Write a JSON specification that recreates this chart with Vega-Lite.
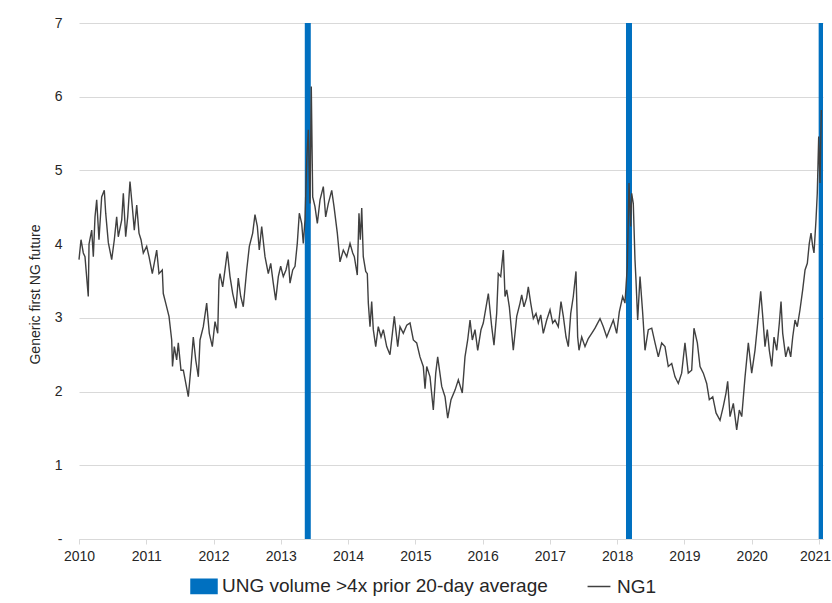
{
  "$schema": "https://vega.github.io/schema/vega-lite/v6.json",
  "width": 744,
  "height": 516,
  "autosize": {"type": "none"},
  "padding": {"left": 79, "top": 23, "right": 9, "bottom": 64},
  "config": {"view": {"stroke": null}, "font": "Liberation Sans"},
  "datasets": {
    "ung": [{"t": 2013.401}, {"t": 2018.176}, {"t": 2021.04}],
    "ng1": [
      {"t": 2010.000, "v": 3.79}, {"t": 2010.030, "v": 4.06}, {"t": 2010.064, "v": 3.88}, {"t": 2010.089, "v": 3.83},
      {"t": 2010.138, "v": 3.29}, {"t": 2010.149, "v": 4.00}, {"t": 2010.189, "v": 4.19}, {"t": 2010.213, "v": 3.83},
      {"t": 2010.238, "v": 4.37}, {"t": 2010.263, "v": 4.60}, {"t": 2010.297, "v": 4.06}, {"t": 2010.337, "v": 4.64},
      {"t": 2010.376, "v": 4.73}, {"t": 2010.397, "v": 4.42}, {"t": 2010.436, "v": 4.02}, {"t": 2010.486, "v": 3.79},
      {"t": 2010.525, "v": 4.06}, {"t": 2010.560, "v": 4.37}, {"t": 2010.584, "v": 4.10}, {"t": 2010.635, "v": 4.33},
      {"t": 2010.659, "v": 4.69}, {"t": 2010.694, "v": 4.10}, {"t": 2010.724, "v": 4.37}, {"t": 2010.758, "v": 4.85},
      {"t": 2010.792, "v": 4.51}, {"t": 2010.822, "v": 4.19}, {"t": 2010.858, "v": 4.53}, {"t": 2010.892, "v": 4.15},
      {"t": 2010.922, "v": 4.06}, {"t": 2010.956, "v": 3.88}, {"t": 2011.006, "v": 3.97}, {"t": 2011.041, "v": 3.83},
      {"t": 2011.090, "v": 3.60}, {"t": 2011.155, "v": 3.92}, {"t": 2011.189, "v": 3.60}, {"t": 2011.238, "v": 3.65},
      {"t": 2011.253, "v": 3.33}, {"t": 2011.289, "v": 3.20}, {"t": 2011.338, "v": 3.02}, {"t": 2011.378, "v": 2.70},
      {"t": 2011.390, "v": 2.34}, {"t": 2011.417, "v": 2.61}, {"t": 2011.452, "v": 2.43}, {"t": 2011.476, "v": 2.66},
      {"t": 2011.516, "v": 2.29}, {"t": 2011.551, "v": 2.29}, {"t": 2011.625, "v": 1.93}, {"t": 2011.665, "v": 2.34},
      {"t": 2011.699, "v": 2.74}, {"t": 2011.735, "v": 2.43}, {"t": 2011.774, "v": 2.20}, {"t": 2011.799, "v": 2.70},
      {"t": 2011.848, "v": 2.88}, {"t": 2011.898, "v": 3.20}, {"t": 2011.937, "v": 2.79}, {"t": 2011.982, "v": 2.61},
      {"t": 2012.022, "v": 2.95}, {"t": 2012.062, "v": 2.79}, {"t": 2012.081, "v": 3.51}, {"t": 2012.096, "v": 3.60},
      {"t": 2012.136, "v": 3.42}, {"t": 2012.170, "v": 3.65}, {"t": 2012.205, "v": 3.90}, {"t": 2012.245, "v": 3.56},
      {"t": 2012.285, "v": 3.33}, {"t": 2012.334, "v": 3.13}, {"t": 2012.368, "v": 3.54}, {"t": 2012.404, "v": 3.29},
      {"t": 2012.442, "v": 3.15}, {"t": 2012.493, "v": 3.65}, {"t": 2012.532, "v": 3.97}, {"t": 2012.582, "v": 4.15},
      {"t": 2012.616, "v": 4.40}, {"t": 2012.651, "v": 4.24}, {"t": 2012.680, "v": 3.92}, {"t": 2012.716, "v": 4.24},
      {"t": 2012.765, "v": 3.83}, {"t": 2012.814, "v": 3.60}, {"t": 2012.850, "v": 3.74}, {"t": 2012.888, "v": 3.47},
      {"t": 2012.924, "v": 3.24}, {"t": 2012.963, "v": 3.56}, {"t": 2012.998, "v": 3.70}, {"t": 2013.037, "v": 3.56},
      {"t": 2013.077, "v": 3.65}, {"t": 2013.112, "v": 3.79}, {"t": 2013.137, "v": 3.47}, {"t": 2013.177, "v": 3.65},
      {"t": 2013.211, "v": 3.70}, {"t": 2013.245, "v": 4.01}, {"t": 2013.275, "v": 4.42}, {"t": 2013.311, "v": 4.28},
      {"t": 2013.334, "v": 4.01}, {"t": 2013.360, "v": 4.33}, {"t": 2013.385, "v": 5.14}, {"t": 2013.409, "v": 5.55},
      {"t": 2013.434, "v": 4.55}, {"t": 2013.453, "v": 6.14}, {"t": 2013.474, "v": 4.64}, {"t": 2013.508, "v": 4.51},
      {"t": 2013.543, "v": 4.28}, {"t": 2013.583, "v": 4.60}, {"t": 2013.632, "v": 4.78}, {"t": 2013.667, "v": 4.37},
      {"t": 2013.706, "v": 4.55}, {"t": 2013.757, "v": 4.73}, {"t": 2013.791, "v": 4.51}, {"t": 2013.840, "v": 4.15},
      {"t": 2013.880, "v": 3.76}, {"t": 2013.929, "v": 3.92}, {"t": 2013.980, "v": 3.83}, {"t": 2014.029, "v": 4.01},
      {"t": 2014.069, "v": 3.88}, {"t": 2014.093, "v": 3.83}, {"t": 2014.137, "v": 3.58}, {"t": 2014.162, "v": 4.42},
      {"t": 2014.182, "v": 4.06}, {"t": 2014.203, "v": 4.49}, {"t": 2014.226, "v": 3.83}, {"t": 2014.262, "v": 3.63},
      {"t": 2014.286, "v": 3.60}, {"t": 2014.301, "v": 3.20}, {"t": 2014.326, "v": 2.88}, {"t": 2014.351, "v": 3.22},
      {"t": 2014.375, "v": 2.84}, {"t": 2014.411, "v": 2.61}, {"t": 2014.449, "v": 2.88}, {"t": 2014.490, "v": 2.74},
      {"t": 2014.524, "v": 2.84}, {"t": 2014.574, "v": 2.61}, {"t": 2014.623, "v": 2.50}, {"t": 2014.687, "v": 3.02},
      {"t": 2014.738, "v": 2.61}, {"t": 2014.772, "v": 2.88}, {"t": 2014.821, "v": 2.79}, {"t": 2014.872, "v": 2.90},
      {"t": 2014.921, "v": 2.93}, {"t": 2014.970, "v": 2.70}, {"t": 2015.020, "v": 2.66}, {"t": 2015.069, "v": 2.47},
      {"t": 2015.118, "v": 2.34}, {"t": 2015.144, "v": 2.04}, {"t": 2015.169, "v": 2.34}, {"t": 2015.218, "v": 2.20},
      {"t": 2015.267, "v": 1.75}, {"t": 2015.303, "v": 2.25}, {"t": 2015.332, "v": 2.47}, {"t": 2015.392, "v": 2.07},
      {"t": 2015.441, "v": 1.93}, {"t": 2015.481, "v": 1.64}, {"t": 2015.530, "v": 1.89}, {"t": 2015.590, "v": 2.02},
      {"t": 2015.639, "v": 2.16}, {"t": 2015.698, "v": 1.98}, {"t": 2015.738, "v": 2.47}, {"t": 2015.778, "v": 2.70},
      {"t": 2015.813, "v": 2.97}, {"t": 2015.847, "v": 2.70}, {"t": 2015.887, "v": 2.84}, {"t": 2015.927, "v": 2.56},
      {"t": 2015.976, "v": 2.84}, {"t": 2016.010, "v": 2.93}, {"t": 2016.085, "v": 3.33}, {"t": 2016.135, "v": 2.88},
      {"t": 2016.169, "v": 2.63}, {"t": 2016.209, "v": 3.06}, {"t": 2016.233, "v": 3.60}, {"t": 2016.269, "v": 3.56},
      {"t": 2016.308, "v": 3.92}, {"t": 2016.333, "v": 3.29}, {"t": 2016.358, "v": 3.38}, {"t": 2016.397, "v": 3.15},
      {"t": 2016.456, "v": 2.56}, {"t": 2016.507, "v": 3.02}, {"t": 2016.556, "v": 3.20}, {"t": 2016.581, "v": 3.31},
      {"t": 2016.615, "v": 3.15}, {"t": 2016.655, "v": 3.27}, {"t": 2016.679, "v": 3.42}, {"t": 2016.715, "v": 3.20},
      {"t": 2016.754, "v": 2.99}, {"t": 2016.794, "v": 3.06}, {"t": 2016.828, "v": 2.93}, {"t": 2016.864, "v": 3.04},
      {"t": 2016.902, "v": 2.79}, {"t": 2016.953, "v": 2.97}, {"t": 2017.002, "v": 3.11}, {"t": 2017.042, "v": 2.93},
      {"t": 2017.076, "v": 2.97}, {"t": 2017.125, "v": 2.88}, {"t": 2017.165, "v": 3.22}, {"t": 2017.200, "v": 3.02},
      {"t": 2017.240, "v": 2.74}, {"t": 2017.274, "v": 2.61}, {"t": 2017.310, "v": 3.06}, {"t": 2017.348, "v": 3.29},
      {"t": 2017.388, "v": 3.63}, {"t": 2017.413, "v": 2.74}, {"t": 2017.433, "v": 2.56}, {"t": 2017.473, "v": 2.74},
      {"t": 2017.522, "v": 2.61}, {"t": 2017.571, "v": 2.72}, {"t": 2017.622, "v": 2.79}, {"t": 2017.671, "v": 2.86},
      {"t": 2017.745, "v": 2.99}, {"t": 2017.794, "v": 2.88}, {"t": 2017.845, "v": 2.74}, {"t": 2017.904, "v": 2.88},
      {"t": 2017.943, "v": 2.97}, {"t": 2017.993, "v": 2.79}, {"t": 2018.032, "v": 3.08}, {"t": 2018.082, "v": 3.29},
      {"t": 2018.116, "v": 3.20}, {"t": 2018.151, "v": 3.70}, {"t": 2018.176, "v": 4.83}, {"t": 2018.201, "v": 4.24},
      {"t": 2018.216, "v": 4.69}, {"t": 2018.240, "v": 4.55}, {"t": 2018.265, "v": 3.79}, {"t": 2018.280, "v": 3.51},
      {"t": 2018.305, "v": 2.97}, {"t": 2018.340, "v": 3.56}, {"t": 2018.380, "v": 3.06}, {"t": 2018.414, "v": 2.56},
      {"t": 2018.463, "v": 2.84}, {"t": 2018.514, "v": 2.86}, {"t": 2018.563, "v": 2.66}, {"t": 2018.612, "v": 2.47},
      {"t": 2018.662, "v": 2.66}, {"t": 2018.711, "v": 2.61}, {"t": 2018.760, "v": 2.34}, {"t": 2018.811, "v": 2.38},
      {"t": 2018.860, "v": 2.20}, {"t": 2018.909, "v": 2.11}, {"t": 2018.959, "v": 2.25}, {"t": 2019.008, "v": 2.66},
      {"t": 2019.057, "v": 2.25}, {"t": 2019.108, "v": 2.29}, {"t": 2019.142, "v": 2.86}, {"t": 2019.192, "v": 2.66},
      {"t": 2019.232, "v": 2.34}, {"t": 2019.281, "v": 2.25}, {"t": 2019.331, "v": 2.11}, {"t": 2019.370, "v": 1.89},
      {"t": 2019.421, "v": 1.93}, {"t": 2019.470, "v": 1.71}, {"t": 2019.529, "v": 1.61}, {"t": 2019.578, "v": 1.80},
      {"t": 2019.618, "v": 1.98}, {"t": 2019.643, "v": 2.14}, {"t": 2019.678, "v": 1.66}, {"t": 2019.727, "v": 1.84},
      {"t": 2019.777, "v": 1.48}, {"t": 2019.816, "v": 1.75}, {"t": 2019.852, "v": 1.66}, {"t": 2019.901, "v": 2.20},
      {"t": 2019.950, "v": 2.66}, {"t": 2020.000, "v": 2.25}, {"t": 2020.049, "v": 2.56}, {"t": 2020.084, "v": 2.88},
      {"t": 2020.134, "v": 3.36}, {"t": 2020.164, "v": 3.02}, {"t": 2020.198, "v": 2.61}, {"t": 2020.232, "v": 2.84},
      {"t": 2020.262, "v": 2.56}, {"t": 2020.298, "v": 2.34}, {"t": 2020.332, "v": 2.74}, {"t": 2020.372, "v": 2.56},
      {"t": 2020.411, "v": 2.93}, {"t": 2020.436, "v": 3.22}, {"t": 2020.461, "v": 2.79}, {"t": 2020.506, "v": 2.47},
      {"t": 2020.545, "v": 2.61}, {"t": 2020.580, "v": 2.47}, {"t": 2020.610, "v": 2.74}, {"t": 2020.644, "v": 2.97},
      {"t": 2020.678, "v": 2.88}, {"t": 2020.718, "v": 3.11}, {"t": 2020.758, "v": 3.38}, {"t": 2020.793, "v": 3.65},
      {"t": 2020.827, "v": 3.74}, {"t": 2020.856, "v": 4.01}, {"t": 2020.882, "v": 4.15}, {"t": 2020.907, "v": 3.97},
      {"t": 2020.926, "v": 3.88}, {"t": 2020.956, "v": 4.33}, {"t": 2020.975, "v": 4.69}, {"t": 2020.996, "v": 5.46},
      {"t": 2021.015, "v": 4.83}, {"t": 2021.035, "v": 5.82}
    ]
  },
  "layer": [
    {
      "data": {"name": "ung"},
      "mark": {"type": "rule", "strokeWidth": 6, "clip": true},
      "encoding": {
        "x": {
          "field": "t", "type": "quantitative",
          "scale": {"domain": [2010, 2021.06], "nice": false, "zero": false},
          "axis": {
            "values": [2010, 2011, 2012, 2013, 2014, 2015, 2016, 2017, 2018, 2019, 2020, 2021],
            "format": "d", "title": null, "grid": false,
            "domainColor": "#d9d9d9", "tickColor": "#d9d9d9", "tickSize": 5,
            "labelFontSize": 14, "labelColor": "#262626", "labelPadding": 5, "labelFlush": false, "labelOverlap": false,
            "labelOffset": {"condition": {"test": "datum.value == 2021", "value": -4}, "value": 0}
          }
        },
        "color": {
          "datum": "UNG volume >4x prior 20-day average",
          "scale": {"domain": ["UNG volume >4x prior 20-day average", "NG1"], "range": ["#0070C0", "#404040"]},
          "legend": {
            "title": null, "orient": "none", "legendX": 111, "legendY": 549,
            "direction": "horizontal", "padding": 0, "labelLimit": 0,
            "labelFontSize": 19, "labelColor": "#262626", "labelOffset": 4,
            "columnPadding": 36, "symbolSize": 676,
            "encode": {
              "symbols": {
                "update": {
                  "shape": {"signal": "datum.value == 'NG1' ? 'M-0.88,0H0.88' : 'M-1,-0.55H1V0.55H-1Z'"},
                  "fill": {"signal": "datum.value == 'NG1' ? 'transparent' : '#0070C0'"},
                  "stroke": {"signal": "datum.value == 'NG1' ? '#404040' : '#0070C0'"},
                  "strokeWidth": {"value": 1.5},
                  "size": {"value": 676},
                  "opacity": {"value": 1}
                }
              }
            }
          }
        }
      }
    },
    {
      "data": {"name": "ng1"},
      "mark": {"type": "line", "strokeWidth": 1.4},
      "encoding": {
        "x": {"field": "t", "type": "quantitative"},
        "y": {
          "field": "v", "type": "quantitative",
          "scale": {"domain": [0, 7], "nice": false},
          "axis": {
            "values": [0, 1, 2, 3, 4, 5, 6, 7],
            "labelExpr": "datum.value == 0 ? '-' : datum.label",
            "domain": false, "ticks": false, "grid": true, "gridColor": "#d9d9d9",
            "labelFontSize": 14, "labelColor": "#262626", "labelPadding": 17,
            "title": "Generic first NG future", "titleFontSize": 14, "titleFontWeight": "normal",
            "titleColor": "#262626", "titleX": -44, "titleY": 271, "titleAngle": -90,
            "titleAlign": "center", "titleBaseline": "middle"
          }
        },
        "color": {"datum": "NG1"}
      }
    }
  ]
}
